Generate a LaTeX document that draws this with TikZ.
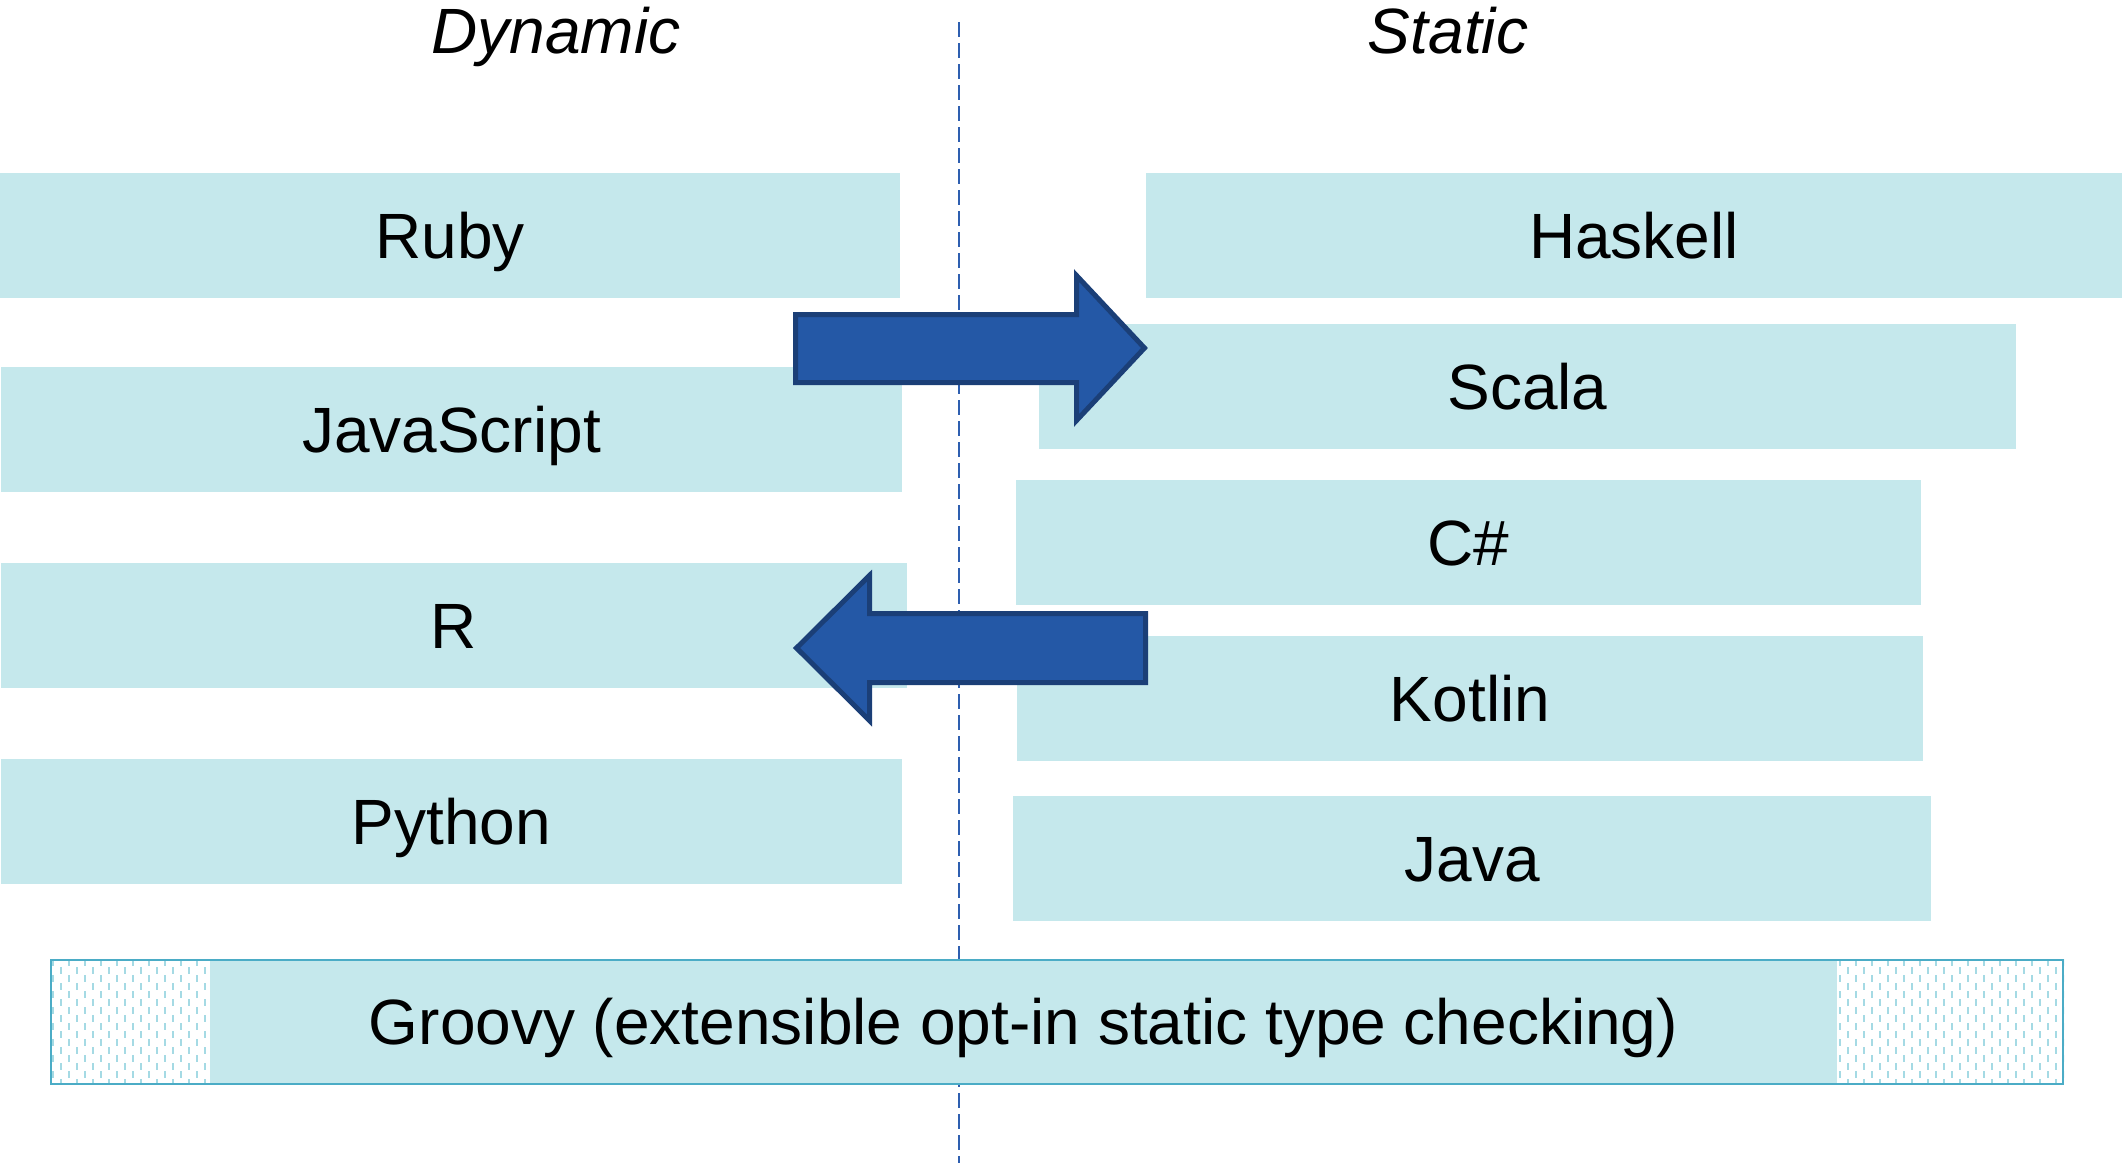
\documentclass[tikz,border=0pt]{standalone}
\usepackage{fontspec}
\setmainfont{Liberation Sans}
\usetikzlibrary{positioning}
\definecolor{boxfill}{RGB}{197,232,236}
\definecolor{hatchcol}{RGB}{165,218,228}
\definecolor{frameteal}{RGB}{75,172,198}
\definecolor{arrowblue}{RGB}{36,88,166}
\definecolor{arrowedge}{RGB}{27,63,119}
\definecolor{divblue}{RGB}{46,95,176}
\tikzset{
  langbox/.style={fill=boxfill, draw=none, minimum height=125pt, inner sep=0pt,
    text height=46pt, text depth=0pt, font=\fontsize{64}{76}\selectfont},
  title/.style={anchor=base, font=\fontsize{64}{76}\selectfont\itshape},
  hatch/.style={draw=hatchcol, line width=2pt, dash pattern=on 7pt off 9pt},
  gframe/.style={draw=frameteal, line width=2pt},
  divider/.style={draw=divblue, line width=2pt, dash pattern=on 15pt off 6pt},
  bigarrow/.style={fill=arrowblue, draw=arrowedge, line width=5pt, line join=miter}
}

\begin{document}
\begin{tikzpicture}[x=1pt, y=-1pt]
  \useasboundingbox (0,0) rectangle (2126,1168);

  % dashed split between the two camps, behind everything
  \coordinate (divtop) at (959,22);
  \coordinate (divbot) at (959,1163);
  \draw[divider] (divtop) -- (divbot);

  \node[title] (dyn) at (556,53) {Dynamic};
  \node[title] (stat) at (1448,53) {Static};

  % dynamic column
  \node[langbox, minimum width=900pt] (ruby) at (450,235) {Ruby};
  \node[langbox, minimum width=901pt] (js) at (451.5,429.5) {JavaScript};
  \node[langbox, minimum width=906pt] (rlang) at (454,625) {R};
  \node[langbox, minimum width=901pt] (python) at (451.5,821.5) {Python};

  % static column
  \node[langbox, minimum width=976pt] (haskell) at (1634,235) {Haskell};
  \node[langbox, minimum width=977pt] (scala) at (1527.5,386) {Scala};
  \node[langbox, minimum width=905pt] (csharp) at (1468.5,542.5) {C\#};
  \node[langbox, minimum width=906pt] (kotlin) at (1470,698.5) {Kotlin};
  \node[langbox, minimum width=918pt] (java) at (1472,858.5) {Java};

  % Groovy spans both, hatched ends
  \foreach \xa/\xb/\n in {50/210/20, 1837/2064/29} {
    \begin{scope}
      \clip (\xa,959) rectangle (\xb,1084);
      \foreach \i in {0,...,\n} {
        \pgfmathsetmacro\ph{mod(\i,2)*8}
        \draw[hatch, dash phase=\ph pt] (\xa+\i*8+3,959) -- (\xa+\i*8+3,1084);
      }
    \end{scope}
  }
  \node[langbox, minimum width=1627pt] (groovy) at (1023.5,1021.5)
    {Groovy (extensible opt-in static type checking)};
  \node[gframe, minimum width=2012pt, minimum height=124pt, inner sep=0pt] (gbox) at (1057,1021.5) {};

  % block arrows
  \draw[bigarrow] (795.5,314.5) -- (1076.5,314.5) -- (1076.5,275.5) -- (1144.5,348)
    -- (1076.5,420.5) -- (1076.5,382.5) -- (795.5,382.5) -- cycle;
  \draw[bigarrow] (1145.5,613.5) -- (869.5,613.5) -- (869.5,575.5) -- (796.5,648)
    -- (869.5,720.5) -- (869.5,682.5) -- (1145.5,682.5) -- cycle;
\end{tikzpicture}
\end{document}
